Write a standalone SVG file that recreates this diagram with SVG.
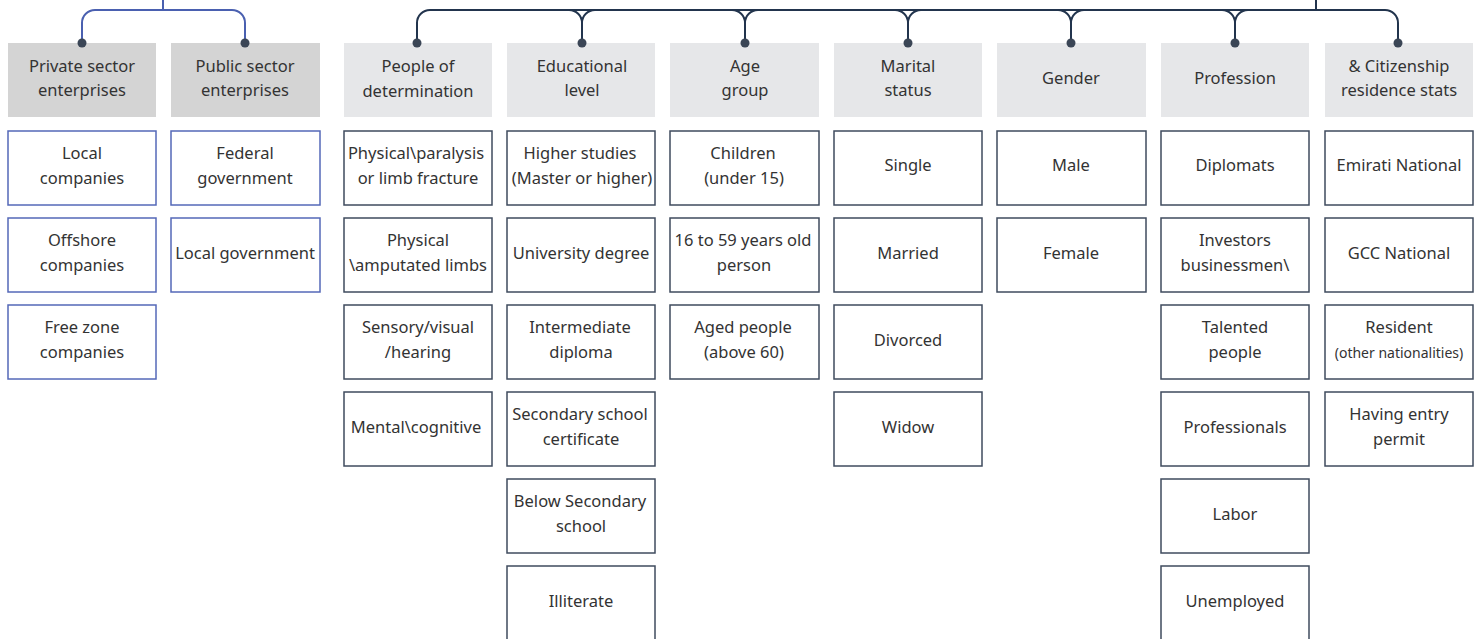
<svg xmlns="http://www.w3.org/2000/svg" width="1481" height="639" viewBox="0 0 1481 639">
<style>
text{font-family:"Noto Sans","Liberation Sans",sans-serif;font-size:16.5px;fill:#333;text-anchor:middle}
.sm{font-size:14px}
.hd1{fill:#d4d4d4}
.hd2{fill:#e6e7e9}
.bx{fill:#fff;stroke:#3f4b5e;stroke-width:1.5}
.bxb{fill:#fff;stroke:#5468b8;stroke-width:1.5}
.cb{fill:none;stroke:#4a60b0;stroke-width:2}
.cn{fill:none;stroke:#22344d;stroke-width:2}
.dot{fill:#3b4656}
</style>
<rect width="1481" height="639" fill="#fff"/>
<g id="connectors">
<path class="cb" d="M163 0V10M82 43V23A13 13 0 0 1 95 10H232A13 13 0 0 1 245 23V43"/>
<path class="cn" d="M1316 0V10M417 43V23A13 13 0 0 1 430 10H1385A13 13 0 0 1 1398 23V43"/>
<path class="cn" d="M569 10A13 13 0 0 1 582 23V43M595 10A13 13 0 0 0 582 23"/>
<path class="cn" d="M732 10A13 13 0 0 1 745 23V43M758 10A13 13 0 0 0 745 23"/>
<path class="cn" d="M895 10A13 13 0 0 1 908 23V43M921 10A13 13 0 0 0 908 23"/>
<path class="cn" d="M1058 10A13 13 0 0 1 1071 23V43M1084 10A13 13 0 0 0 1071 23"/>
<path class="cn" d="M1222 10A13 13 0 0 1 1235 23V43M1248 10A13 13 0 0 0 1235 23"/>
</g>
<g id="h-private"><rect class="hd1" x="8" y="43" width="148" height="74"/><text x="82" y="71.5">Private sector</text><text x="82" y="96">enterprises</text><circle class="dot" cx="82" cy="43" r="4.5"/></g>
<g id="h-public"><rect class="hd1" x="171" y="43" width="149" height="74"/><text x="245" y="71.5">Public sector</text><text x="245" y="96">enterprises</text><circle class="dot" cx="245" cy="43" r="4.5"/></g>
<g id="h-people"><rect class="hd2" x="344" y="43" width="148" height="74"/><text x="418" y="72">People of</text><text x="418" y="96.5">determination</text><circle class="dot" cx="417" cy="43" r="4.5"/></g>
<g id="h-edu"><rect class="hd2" x="507" y="43" width="148" height="74"/><text x="582" y="71.5">Educational</text><text x="582" y="96">level</text><circle class="dot" cx="582" cy="43" r="4.5"/></g>
<g id="h-age"><rect class="hd2" x="670" y="43" width="149" height="74"/><text x="745" y="71.5">Age</text><text x="745" y="96">group</text><circle class="dot" cx="745" cy="43" r="4.5"/></g>
<g id="h-marital"><rect class="hd2" x="834" y="43" width="148" height="74"/><text x="908" y="71.5">Marital</text><text x="908" y="96">status</text><circle class="dot" cx="908" cy="43" r="4.5"/></g>
<g id="h-gender"><rect class="hd2" x="997" y="43" width="149" height="74"/><text x="1071" y="83.5">Gender</text><circle class="dot" cx="1071" cy="43" r="4.5"/></g>
<g id="h-profession"><rect class="hd2" x="1161" y="43" width="148" height="74"/><text x="1235" y="83.5">Profession</text><circle class="dot" cx="1235" cy="43" r="4.5"/></g>
<g id="h-citizen"><rect class="hd2" x="1325" y="43" width="148" height="74"/><text x="1399" y="71.5">&amp; Citizenship</text><text x="1399" y="96">residence stats</text><circle class="dot" cx="1398" cy="43" r="4.5"/></g>

<g id="n-local-co"><rect class="bxb" x="8" y="131" width="148" height="74"/><text x="82" y="158.5">Local</text><text x="82" y="183.5">companies</text></g>
<g id="n-offshore"><rect class="bxb" x="8" y="218" width="148" height="74"/><text x="82" y="245.5">Offshore</text><text x="82" y="270.5">companies</text></g>
<g id="n-freezone"><rect class="bxb" x="8" y="305" width="148" height="74"/><text x="82" y="332.5">Free zone</text><text x="82" y="357.5">companies</text></g>
<g id="n-federal"><rect class="bxb" x="171" y="131" width="149" height="74"/><text x="245" y="158.5">Federal</text><text x="245" y="183.5">government</text></g>
<g id="n-localgov"><rect class="bxb" x="171" y="218" width="149" height="74"/><text x="245" y="258.5">Local government</text></g>

<g id="n-paralysis"><rect class="bx" x="344" y="131" width="148" height="74"/><text x="416" y="158.5">Physical\paralysis</text><text x="418" y="183.5">or limb fracture</text></g>
<g id="n-amputated"><rect class="bx" x="344" y="218" width="148" height="74"/><text x="418" y="245.5">Physical</text><text x="418" y="270.5">\amputated limbs</text></g>
<g id="n-sensory"><rect class="bx" x="344" y="305" width="148" height="74"/><text x="418" y="332.5">Sensory/visual</text><text x="418" y="357.5">/hearing</text></g>
<g id="n-mental"><rect class="bx" x="344" y="392" width="148" height="74"/><text x="416" y="432.5">Mental\cognitive</text></g>

<g id="n-higher"><rect class="bx" x="507" y="131" width="148" height="74"/><text x="580" y="158.5">Higher studies</text><text x="582" y="183.5">(Master or higher)</text></g>
<g id="n-university"><rect class="bx" x="507" y="218" width="148" height="74"/><text x="581" y="258.5">University degree</text></g>
<g id="n-intermediate"><rect class="bx" x="507" y="305" width="148" height="74"/><text x="580" y="332.5">Intermediate</text><text x="581" y="357.5">diploma</text></g>
<g id="n-secondary"><rect class="bx" x="507" y="392" width="148" height="74"/><text x="580" y="419.5">Secondary school</text><text x="581" y="444.5">certificate</text></g>
<g id="n-below"><rect class="bx" x="507" y="479" width="148" height="74"/><text x="580" y="506.5">Below Secondary</text><text x="581" y="531.5">school</text></g>
<g id="n-illiterate"><rect class="bx" x="507" y="566" width="148" height="74"/><text x="581" y="606.5">Illiterate</text></g>

<g id="n-children"><rect class="bx" x="670" y="131" width="149" height="74"/><text x="743" y="158.5">Children</text><text x="744" y="183.5">(under 15)</text></g>
<g id="n-16to59"><rect class="bx" x="670" y="218" width="149" height="74"/><text x="743" y="245.5">16 to 59 years old</text><text x="744" y="270.5">person</text></g>
<g id="n-aged"><rect class="bx" x="670" y="305" width="149" height="74"/><text x="743" y="332.5">Aged people</text><text x="744" y="357.5">(above 60)</text></g>

<g id="n-single"><rect class="bx" x="834" y="131" width="148" height="74"/><text x="908" y="170.5">Single</text></g>
<g id="n-married"><rect class="bx" x="834" y="218" width="148" height="74"/><text x="908" y="258.5">Married</text></g>
<g id="n-divorced"><rect class="bx" x="834" y="305" width="148" height="74"/><text x="908" y="345.5">Divorced</text></g>
<g id="n-widow"><rect class="bx" x="834" y="392" width="148" height="74"/><text x="908" y="432.5">Widow</text></g>

<g id="n-male"><rect class="bx" x="997" y="131" width="149" height="74"/><text x="1071" y="170.5">Male</text></g>
<g id="n-female"><rect class="bx" x="997" y="218" width="149" height="74"/><text x="1071" y="258.5">Female</text></g>

<g id="n-diplomats"><rect class="bx" x="1161" y="131" width="148" height="74"/><text x="1235" y="170.5">Diplomats</text></g>
<g id="n-investors"><rect class="bx" x="1161" y="218" width="148" height="74"/><text x="1235" y="245.5">Investors</text><text x="1235" y="270.5">businessmen\</text></g>
<g id="n-talented"><rect class="bx" x="1161" y="305" width="148" height="74"/><text x="1235" y="332.5">Talented</text><text x="1235" y="357.5">people</text></g>
<g id="n-professionals"><rect class="bx" x="1161" y="392" width="148" height="74"/><text x="1235" y="432.5">Professionals</text></g>
<g id="n-labor"><rect class="bx" x="1161" y="479" width="148" height="74"/><text x="1235" y="519.5">Labor</text></g>
<g id="n-unemployed"><rect class="bx" x="1161" y="566" width="148" height="74"/><text x="1235" y="606.5">Unemployed</text></g>

<g id="n-emirati"><rect class="bx" x="1325" y="131" width="148" height="74"/><text x="1399" y="170.5">Emirati National</text></g>
<g id="n-gcc"><rect class="bx" x="1325" y="218" width="148" height="74"/><text x="1399" y="258.5">GCC National</text></g>
<g id="n-resident"><rect class="bx" x="1325" y="305" width="148" height="74"/><text x="1399" y="332.5">Resident</text><text class="sm" x="1399" y="357.5">(other nationalities)</text></g>
<g id="n-entry"><rect class="bx" x="1325" y="392" width="148" height="74"/><text x="1399" y="419.5">Having entry</text><text x="1399" y="444.5">permit</text></g>
</svg>
